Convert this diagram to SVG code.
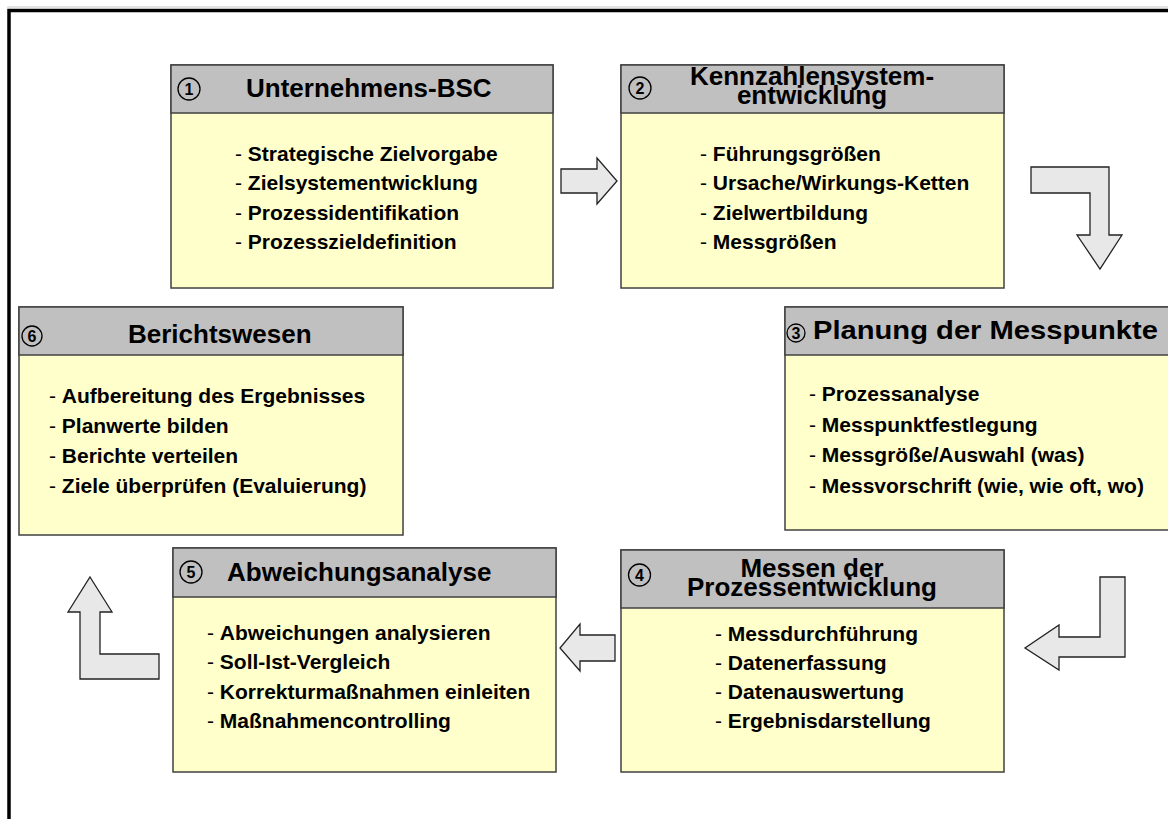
<svg xmlns="http://www.w3.org/2000/svg" width="1168" height="819" viewBox="0 0 1168 819">
  <style>
    .hdr { fill: #c0c0c0; stroke: #404040; stroke-width: 1.5; }
    .bdy { fill: #ffffcc; stroke: #404040; stroke-width: 1.5; }
    .ttl { font-family: "Liberation Sans", Arial, sans-serif; font-weight: bold; font-size: 26px; fill: #000; }
    .itm { font-family: "Liberation Sans", Arial, sans-serif; font-weight: bold; font-size: 21px; fill: #000; }
    .itm .d { font-weight: normal; }
    .ring { fill: none; stroke: #000; stroke-width: 1.3; }
    .num { font-family: "Liberation Sans", Arial, sans-serif; font-weight: bold; font-size: 16px; fill: #000; text-anchor: middle; }
    .arr { fill: #e8e8e8; stroke: #222; stroke-width: 1.3; stroke-linejoin: miter; }
  </style>

  <rect width="1168" height="819" fill="#ffffff"/>
  <!-- outer frame -->
  <line x1="7" y1="7" x2="1168" y2="7" stroke="#c8c8c8" stroke-width="1"/>
  <rect x="9" y="10.5" width="1200" height="900" fill="none" stroke="#000" stroke-width="3.5"/>

  <!-- 1: Unternehmens-BSC -->
  <g id="node1">
    <rect class="bdy" x="171" y="65" width="382" height="223"/>
    <rect class="hdr" x="171" y="65" width="382" height="48"/>
    <circle class="ring" cx="189" cy="89" r="11"/>
    <text class="num" x="189" y="94.5">1</text>
    <text class="ttl" x="246" y="97">Unternehmens-BSC</text>
    <text class="itm" x="235" y="161"><tspan class="d">- </tspan>Strategische Zielvorgabe</text>
    <text class="itm" x="235" y="190"><tspan class="d">- </tspan>Zielsystementwicklung</text>
    <text class="itm" x="235" y="220"><tspan class="d">- </tspan>Prozessidentifikation</text>
    <text class="itm" x="235" y="249"><tspan class="d">- </tspan>Prozesszieldefinition</text>
  </g>

  <!-- 2: Kennzahlensystementwicklung -->
  <g id="node2">
    <rect class="bdy" x="621" y="65" width="383" height="223"/>
    <rect class="hdr" x="621" y="65" width="383" height="48"/>
    <circle class="ring" cx="640" cy="88" r="11"/>
    <text class="num" x="640" y="93.5">2</text>
    <text class="ttl" x="812" y="85" text-anchor="middle">Kennzahlensystem-</text>
    <text class="ttl" x="812" y="104" text-anchor="middle">entwicklung</text>
    <text class="itm" x="700" y="161"><tspan class="d">- </tspan>Führungsgrößen</text>
    <text class="itm" x="700" y="190"><tspan class="d">- </tspan>Ursache/Wirkungs-Ketten</text>
    <text class="itm" x="700" y="220"><tspan class="d">- </tspan>Zielwertbildung</text>
    <text class="itm" x="700" y="249"><tspan class="d">- </tspan>Messgrößen</text>
  </g>

  <!-- 3: Planung der Messpunkte -->
  <g id="node3">
    <rect class="bdy" x="785" y="307" width="420" height="223"/>
    <rect class="hdr" x="785" y="307" width="420" height="48"/>
    <circle class="ring" cx="796" cy="333" r="9"/>
    <text class="num" x="796" y="338.5">3</text>
    <text class="ttl" x="813" y="339" textLength="345" lengthAdjust="spacingAndGlyphs">Planung der Messpunkte</text>
    <text class="itm" x="809" y="401"><tspan class="d">- </tspan>Prozessanalyse</text>
    <text class="itm" x="809" y="432"><tspan class="d">- </tspan>Messpunktfestlegung</text>
    <text class="itm" x="809" y="462"><tspan class="d">- </tspan>Messgröße/Auswahl (was)</text>
    <text class="itm" x="809" y="493"><tspan class="d">- </tspan>Messvorschrift (wie, wie oft, wo)</text>
  </g>

  <!-- 4: Messen der Prozessentwicklung -->
  <g id="node4">
    <rect class="bdy" x="621" y="550" width="383" height="222"/>
    <rect class="hdr" x="621" y="550" width="383" height="58"/>
    <circle class="ring" cx="639.5" cy="575" r="11"/>
    <text class="num" x="639.5" y="580.5">4</text>
    <text class="ttl" x="812" y="577" text-anchor="middle">Messen der</text>
    <text class="ttl" x="812" y="596" text-anchor="middle">Prozessentwicklung</text>
    <text class="itm" x="715" y="641"><tspan class="d">- </tspan>Messdurchführung</text>
    <text class="itm" x="715" y="670"><tspan class="d">- </tspan>Datenerfassung</text>
    <text class="itm" x="715" y="699"><tspan class="d">- </tspan>Datenauswertung</text>
    <text class="itm" x="715" y="728"><tspan class="d">- </tspan>Ergebnisdarstellung</text>
  </g>

  <!-- 5: Abweichungsanalyse -->
  <g id="node5">
    <rect class="bdy" x="173" y="548" width="383" height="224"/>
    <rect class="hdr" x="173" y="548" width="383" height="49"/>
    <circle class="ring" cx="191" cy="572" r="11"/>
    <text class="num" x="191" y="577.5">5</text>
    <text class="ttl" x="227" y="581">Abweichungsanalyse</text>
    <text class="itm" x="207" y="640"><tspan class="d">- </tspan>Abweichungen analysieren</text>
    <text class="itm" x="207" y="669"><tspan class="d">- </tspan>Soll-Ist-Vergleich</text>
    <text class="itm" x="207" y="699"><tspan class="d">- </tspan>Korrekturmaßnahmen einleiten</text>
    <text class="itm" x="207" y="728"><tspan class="d">- </tspan>Maßnahmencontrolling</text>
  </g>

  <!-- 6: Berichtswesen -->
  <g id="node6">
    <rect class="bdy" x="19" y="307" width="384" height="228"/>
    <rect class="hdr" x="19" y="307" width="384" height="48"/>
    <circle class="ring" cx="32" cy="336" r="10"/>
    <text class="num" x="32" y="341.5">6</text>
    <text class="ttl" x="128" y="343">Berichtswesen</text>
    <text class="itm" x="49" y="403"><tspan class="d">- </tspan>Aufbereitung des Ergebnisses</text>
    <text class="itm" x="49" y="433"><tspan class="d">- </tspan>Planwerte bilden</text>
    <text class="itm" x="49" y="463"><tspan class="d">- </tspan>Berichte verteilen</text>
    <text class="itm" x="49" y="493"><tspan class="d">- </tspan>Ziele überprüfen (Evaluierung)</text>
  </g>

  <!-- block arrows between the steps -->
  <g id="connectors">
    <polygon class="arr" points="561,169 597,169 597,158 617,181 597,204 597,193 561,193"/>
    <polygon class="arr" points="1031,167 1109,167 1109,235 1122,235 1100,269 1077,235 1090,235 1090,193 1031,193"/>
    <polygon class="arr" points="1100,577 1125,577 1125,657 1059,657 1059,670 1025,648 1059,625 1059,637 1100,637"/>
    <polygon class="arr" points="615,635 580,635 580,624 560,648 580,671 580,661 615,661"/>
    <polygon class="arr" points="90,577 112,612 100,612 100,654 159,654 159,679 80,679 80,612 68,612"/>
  </g>
</svg>
